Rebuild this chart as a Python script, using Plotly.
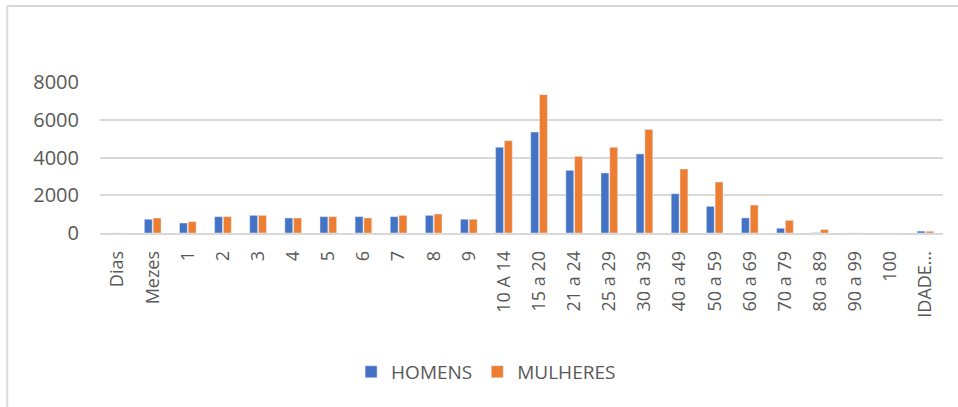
import plotly.graph_objects as go

categorias = ["Dias", "Mezes", "1", "2", "3", "4", "5", "6", "7", "8", "9",
              "10 A 14", "15 a 20", "21 a 24", "25 a 29", "30 a 39", "40 a 49",
              "50 a 59", "60 a 69", "70 a 79", "80 a 89", "90 a 99", "100", "IDADE..."]
homens = [0, 730, 530, 865, 935, 795, 865, 865, 865, 935, 730,
          4540, 5350, 3320, 3180, 4190, 2080, 1410, 800, 250, 15, 0, 0, 100]
mulheres = [0, 795, 600, 865, 935, 795, 865, 795, 935, 1005, 730,
            4890, 7330, 4060, 4540, 5490, 3390, 2700, 1480, 670, 180, 0, 0, 90]
y_ticks = [0, 2000, 4000, 6000, 8000]

font_fam = "Open Sans, sans-serif"
txt = "#595959"

fig = go.Figure()
fig.add_trace(go.Bar(x=categorias, y=homens, name="HOMENS", marker_color="#4472C4"))
fig.add_trace(go.Bar(x=categorias, y=mulheres, name="MULHERES", marker_color="#ED7D31"))

fig.update_layout(
    width=958, height=407,
    margin=dict(l=100, r=15, t=82, b=174),
    paper_bgcolor="white", plot_bgcolor="white",
    barmode="group", bargap=0.5, bargroupgap=0.1,
    font=dict(family=font_fam, size=18, color=txt),
    showlegend=True,
    legend=dict(orientation="h", x=0.458, xanchor="center", y=-0.92, yanchor="middle",
                font=dict(size=19, color=txt), itemwidth=30, traceorder="normal"),
    shapes=[
        dict(type="line", xref="paper", yref="paper", x0=-0.11, x1=1.02, y0=1.503, y1=1.503,
             line=dict(color="#d9d9d9", width=2)),
        dict(type="line", xref="paper", yref="paper", x0=-0.11, x1=-0.11, y0=1.503, y1=-1.16,
             line=dict(color="#d9d9d9", width=2)),
    ],
)
fig.update_yaxes(range=[0, 8000], tickvals=y_ticks, showgrid=True, gridcolor="#d9d9d9",
                 gridwidth=1.5, zeroline=False, showline=False, ticks="", automargin=False,
                 ticklabelstandoff=20, tickfont=dict(size=20, color=txt))
fig.update_xaxes(type="category", tickangle=-90, showline=True, linecolor="#d9d9d9",
                 linewidth=1.5, ticks="", ticklabelstandoff=9, automargin=False,
                 tickfont=dict(size=18, color=txt))

fig.write_html("out.html", config={"displayModeBar": False},
               post_script="document.body.style.margin='0';document.body.style.overflow='hidden';")
